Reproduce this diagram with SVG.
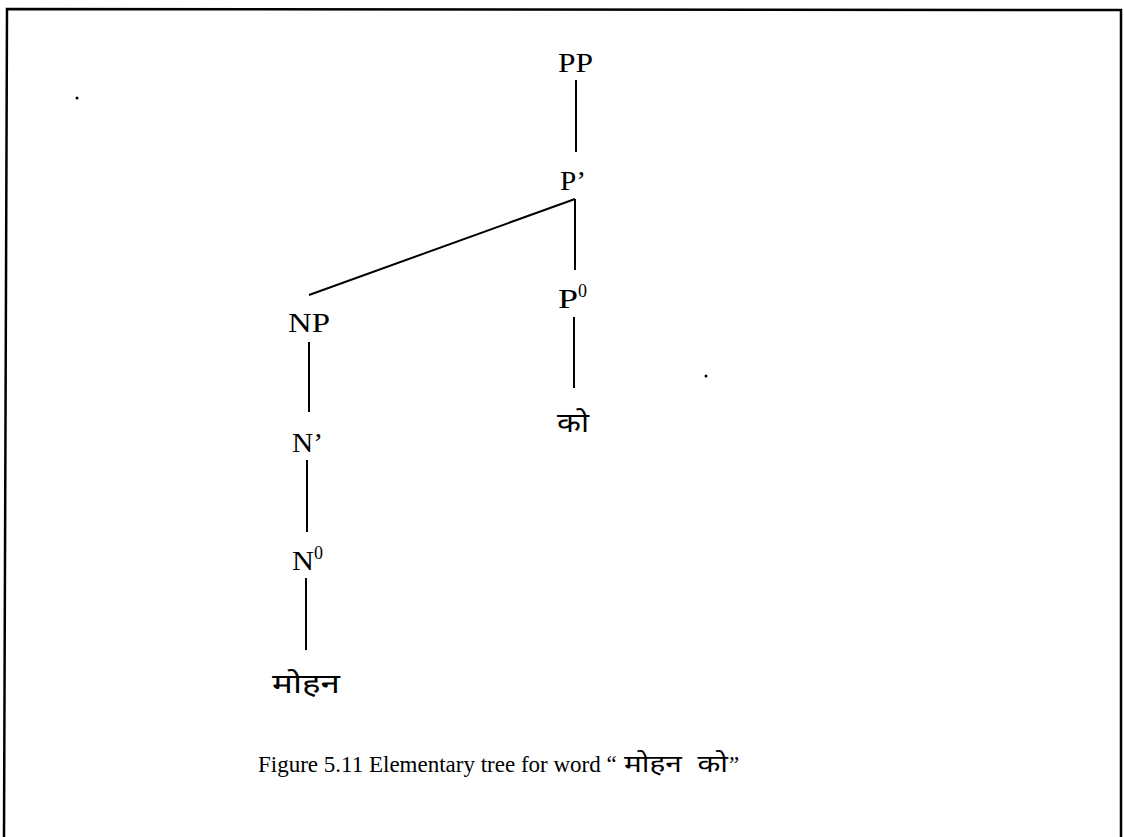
<svg xmlns="http://www.w3.org/2000/svg" width="1124" height="837" viewBox="0 0 1124 837">
<style>
.lbl{font-family:"Liberation Serif","Times New Roman",serif;font-size:28px;fill:#000}
.sup{font-size:18px}
.dev{font-family:"Noto Sans","Noto Sans Devanagari",sans-serif;font-size:27px;fill:#000}
.cap{font-family:"Liberation Serif","Times New Roman",serif;font-size:23px;fill:#000}
.capdev{font-family:"Noto Sans","Noto Sans Devanagari",sans-serif;font-size:24px;fill:#000}
.edge{stroke:#000;stroke-width:2;fill:none}
</style>
<rect width="1124" height="837" fill="#fff"/>
<path d="M4,837 L7,9 L1121,10 L1121,837" stroke="#000" stroke-width="2.5" fill="none"/>
<circle cx="77" cy="98" r="1.5" fill="#000"/>
<circle cx="706" cy="376" r="1.5" fill="#000"/>
<g id="connectors">
<line class="edge" x1="576" y1="80" x2="576" y2="152"/>
<line class="edge" x1="575" y1="199" x2="575" y2="270"/>
<line class="edge" x1="575" y1="199" x2="309" y2="295"/>
<line class="edge" x1="574" y1="317" x2="574" y2="388"/>
<line class="edge" x1="309" y1="342" x2="309" y2="412"/>
<line class="edge" x1="307" y1="460" x2="307" y2="532"/>
<line class="edge" x1="306" y1="578" x2="306" y2="650"/>
</g>
<g id="node-PP"><text class="lbl" x="558" y="72" textLength="35" lengthAdjust="spacingAndGlyphs">PP</text></g>
<g id="node-Pbar"><text class="lbl" x="560" y="190" textLength="26" lengthAdjust="spacingAndGlyphs">P’</text></g>
<g id="node-P0"><text class="lbl" x="558" y="308"><tspan textLength="20" lengthAdjust="spacingAndGlyphs">P</tspan><tspan class="sup" dy="-11">0</tspan></text></g>
<g id="node-ko"><text class="dev" x="557" y="432" textLength="32" lengthAdjust="spacingAndGlyphs">को</text></g>
<g id="node-NP"><text class="lbl" x="288" y="332" textLength="42" lengthAdjust="spacingAndGlyphs">NP</text></g>
<g id="node-Nbar"><text class="lbl" x="292" y="452" textLength="31" lengthAdjust="spacingAndGlyphs">N’</text></g>
<g id="node-N0"><text class="lbl" x="292" y="570"><tspan textLength="22" lengthAdjust="spacingAndGlyphs">N</tspan><tspan class="sup" dy="-11">0</tspan></text></g>
<g id="node-mohan"><text class="dev" x="272" y="693" textLength="68" lengthAdjust="spacingAndGlyphs">मोहन</text></g>
<g id="caption">
<text class="cap" x="258" y="772">Figure 5.11 Elementary tree for word “</text>
<text class="capdev" x="624" y="772" xml:space="preserve" textLength="104" lengthAdjust="spacingAndGlyphs">मोहन  को</text>
<text class="cap" x="729" y="772">”</text>
</g>
</svg>
